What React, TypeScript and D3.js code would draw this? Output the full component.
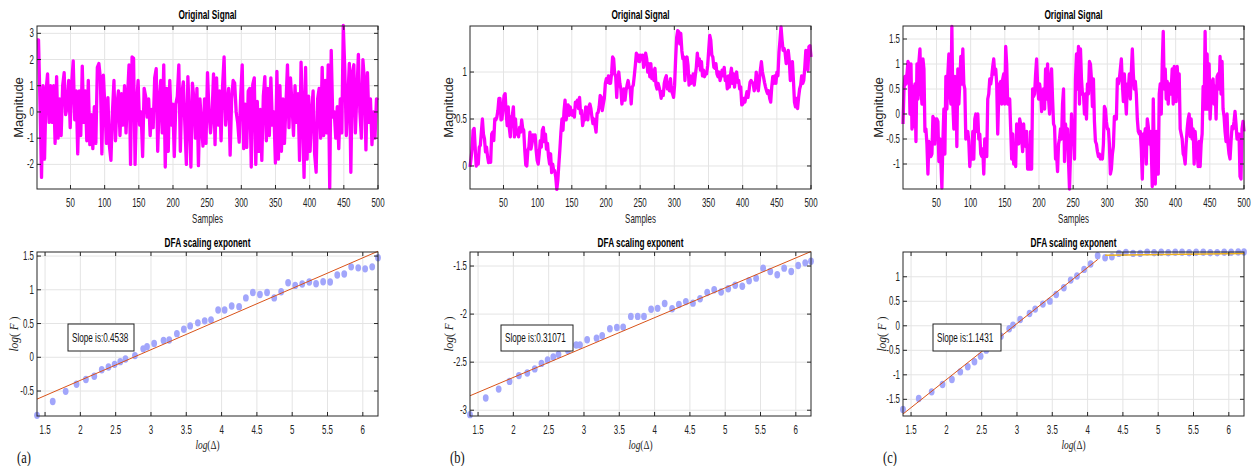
import React from "react";
import * as d3 from "d3";

// ---------------- data ----------------
const SAMPLE_RANGE = [1, 500];
const SAMPLE_TICKS = [50, 100, 150, 200, 250, 300, 350, 400, 450, 500];

const SIG_A = [2.75,2.75,0.3,-2.5,1.0,-1.8,0.8,1.45,-0.4,1.0,-0.4,1.0,-1.2,1.35,-1.0,0.5,-0.9,1.0,1.5,-0.1,0.2,1.2,-0.6,1.1,1.95,-0.3,0.8,-1.6,0.8,-0.9,1.75,-0.4,0.8,-1.1,1.2,-1.25,-0.1,-1.4,0.2,-1.2,1.7,1.85,1.3,-1.6,1.4,0.2,-1.2,0.55,-1.3,-1.85,0.0,1.2,-1.1,0.3,0.8,-0.9,0.7,-0.5,1.0,-0.8,0.6,1.8,-2.0,2.1,2.05,-2.0,0.3,1.2,-0.5,0.0,-1.7,0.9,0.6,-0.2,0.5,-0.9,0.1,-0.6,1.3,1.65,-1.5,0.4,1.2,-0.8,1.8,-2.1,0.9,-1.5,1.2,-0.5,0.3,-1.7,0.3,0.6,1.8,-1.5,0.7,1.15,-0.5,-2.0,1.35,-0.2,-2.1,1.1,0.5,-1.0,0.9,-2.05,0.5,-0.5,-1.3,0.5,-1.2,1.5,0.0,-0.8,-0.1,1.45,-1.25,1.3,-0.5,0.8,-1.1,1.0,2.1,-0.5,0.3,0.9,-1.65,0.5,1.2,1.1,0.0,-0.4,-1.15,0.6,1.8,-1.4,0.3,-1.35,0.8,0.9,-2.1,1.05,1.3,-2.0,0.4,-1.5,0.1,-1.85,0.6,1.35,-1.1,0.9,-0.9,1.3,-0.5,0.0,-1.95,1.55,-1.8,1.0,-1.5,0.5,-1.2,0.3,1.8,-0.6,1.3,0.3,-0.9,1.0,-0.4,0.7,-1.85,1.9,0.0,-2.5,1.7,-1.8,0.6,-1.5,0.0,0.8,-1.6,-2.3,0.5,0.9,-1.0,1.7,-0.9,1.2,-0.8,1.8,-2.9,2.35,-0.2,0.0,-1.0,0.2,-1.4,0.5,-0.8,3.3,1.6,-0.9,0.5,1.85,-2.3,1.5,1.8,-0.8,0.7,2.2,0.0,-1.0,2.0,1.2,-1.45,1.5,-0.4,0.5,-1.25,0.0,-1.0,0.5,0.45];
const SIG_B = [-0.01,0.08,0.18,0.38,0.40,0.2,0.0,0.04,0.02,0.2,0.22,0.36,0.5,0.34,0.29,0.15,0.2,0.1,0.035,0.06,0.04,0.34,0.36,0.27,0.5,0.49,0.52,0.59,0.72,0.72,0.49,0.5,0.63,0.75,0.77,0.56,0.43,0.63,0.41,0.31,0.52,0.54,0.63,0.31,0.50,0.34,0.38,0.31,0.41,0.36,0.49,0.40,0.38,0.17,0.01,0.0,0.17,0.2,0.36,0.18,0.24,0.33,0.27,0.33,0.17,0.06,0.02,0.13,0.27,0.2,0.38,0.41,0.26,0.34,0.18,0.24,0.1,0.02,0.13,-0.07,0.02,-0.05,-0.05,-0.12,-0.25,-0.15,0.02,0.18,0.36,0.5,0.38,0.59,0.7,0.49,0.56,0.65,0.54,0.63,0.56,0.54,0.59,0.52,0.68,0.65,0.70,0.61,0.73,0.56,0.59,0.43,0.5,0.49,0.63,0.54,0.49,0.63,0.66,0.61,0.52,0.45,0.5,0.43,0.36,0.56,0.57,0.63,0.75,0.73,0.59,0.66,0.72,0.88,0.93,0.89,0.96,0.88,0.88,0.98,1.16,1.14,0.98,0.95,0.73,0.95,1.0,0.88,0.82,0.66,0.75,0.82,0.70,0.80,0.86,0.91,0.84,0.82,0.66,0.84,0.86,0.96,1.07,1.2,1.12,1.18,1.11,1.18,1.14,1.18,1.05,1.12,1.2,1.14,1.0,1.09,0.95,1.09,0.93,1.02,0.91,1.04,0.86,0.82,0.88,0.84,0.79,0.72,0.79,0.75,0.88,0.93,0.96,0.82,0.89,0.80,0.93,0.80,0.77,0.73,0.86,1.14,1.37,1.44,1.43,1.30,1.41,1.23,1.14,1.16,0.91,1.12,1.16,1.07,0.86,0.96,0.88,0.89,0.98,0.86,0.96,1.05,1.2,1.07,1.14,1.02,1.11,0.96,1.02,0.95,1.0,0.98,1.07,1.23,1.39,1.34,1.18,1.16,1.05,1.04,1.09,0.98,0.95,1.0,0.91,0.96,1.02,0.96,1.05,0.91,0.95,0.82,0.96,0.84,0.96,1.04,0.88,0.98,0.84,0.96,1.0,0.89,0.91,0.82,0.84,0.65,0.66,0.72,0.68,0.73,0.79,0.73,0.80,0.89,0.91,0.89,0.88,0.80,0.84,1.0,0.89,0.80,0.91,1.02,1.11,1.0,0.95,0.89,0.84,0.80,0.77,0.80,0.72,0.68,0.84,0.95,0.88,0.96,0.88,1.0,0.96,1.21,1.34,1.48,1.34,1.23,1.25,1.2,1.09,1.14,1.23,1.12,0.91,1.02,1.11,0.91,0.68,0.63,0.72,0.61,0.73,0.82,0.86,0.96,0.88,0.91,1.05,1.23,1.2,1.02,1.27,1.28,1.16];
const SIG_C = [-0.2,0.5,0.75,0.6,0.8,1.05,1.0,0.0,1.0,-0.3,0.55,-0.25,0.6,-0.55,1.0,0.3,1.05,1.3,0.5,0.2,1.1,0.9,-0.35,-0.3,-0.6,-1.2,-0.55,-0.6,-0.85,-0.8,-0.05,-0.1,-0.6,-0.1,-0.1,-0.15,-0.95,-0.5,-0.95,-1.48,-0.55,0.1,-0.8,0.75,0.1,0.8,1.2,0.5,0.2,1.75,0.2,-0.3,0.75,0.7,-0.65,0.9,0.2,0.65,1.15,0.6,1.3,0.6,0.5,-0.5,-0.4,-0.35,-0.55,-1.05,-0.7,-0.9,-0.35,-0.9,-0.1,0.0,-0.35,0.0,-0.5,-0.4,-0.8,-0.85,-0.7,-1.2,-0.5,-0.65,-0.85,0.3,0.4,0.7,0.6,0.75,0.95,1.1,0.8,0.9,0.6,-0.4,0.35,0.6,0.65,0.2,0.7,0.8,0.2,1.35,1.0,0.2,0.3,0.3,-0.3,-0.9,-0.4,-1.0,-0.6,-1.05,-0.2,-0.5,-0.6,-0.1,-0.2,-0.5,-0.75,-0.2,-0.6,-0.65,-0.35,-1.1,-0.7,-1.1,-0.35,-1.1,0.5,0.35,0.4,0.8,1.1,0.6,0.3,0.6,0.45,0.05,0.3,0.5,0.1,0.9,0.3,1.0,0.3,0.0,0.7,0.9,0.3,-0.2,-0.25,-0.9,-0.8,-1.15,-0.6,-0.5,-0.3,-0.5,0.2,0.5,-0.95,-0.2,-0.5,-0.3,-0.95,-1.5,-0.8,0.0,-0.6,-0.3,-0.9,0.7,1.2,0.5,1.35,0.2,1.3,0.7,0.4,0.4,0.0,0.4,-0.1,0.6,0.4,1.05,1.0,0.7,0.15,0.7,-0.15,-0.55,-0.6,-0.75,-0.85,-0.8,-0.9,-0.85,-0.9,-0.6,0.15,0.1,-0.15,-0.3,-0.3,-0.6,-1.2,-1.1,-0.8,-0.65,-0.05,-0.1,-0.1,0.7,0.6,0.7,0.9,1.1,0.6,0.25,0.8,0.35,0.0,0.6,0.5,0.8,0.3,0.85,1.3,0.8,0.5,0.65,0.4,-0.1,-0.35,-0.4,-0.35,-0.7,-1.3,-0.4,-0.5,-0.3,-1.0,-0.1,-0.25,-0.6,-0.35,-0.7,-1.45,0.3,-0.8,-1.4,-0.35,-1.2,-1.2,0.4,0.6,0.0,1.0,1.65,0.5,0.9,0.3,0.65,0.2,0.6,0.4,0.5,0.9,0.2,0.95,0.5,0.25,0.95,0.55,0.8,-0.3,-0.4,-0.5,-0.8,-0.85,-1.0,-0.6,-0.3,-0.1,0.0,-0.45,-0.1,-0.5,-0.3,-1.0,-0.35,-0.65,-0.75,-1.05,-0.55,-1.05,-0.6,-0.4,0.55,0.1,1.65,0.1,1.2,0.1,1.0,-0.1,0.3,0.65,0.7,0.2,0.55,-0.1,0.75,0.8,0.5,1.15,0.4,1.05,0.1,-0.05,-0.35,-0.55,0.0,-0.6,-0.8,-0.9,-0.55,-0.25,-0.3,-0.15,0.05,-0.2,-0.5,-0.5,-0.4,-1.25,-1.3,-0.3,-0.15,-0.35];

const SIG_A_YDOMAIN = [-2.94, 3.28];
const SIG_B_YDOMAIN = [-0.245, 1.49];
const SIG_C_YDOMAIN = [-1.5, 1.76];
const SIG_A_YTICKS = [-2, -1, 0, 1, 2, 3];
const SIG_B_YTICKS = [0, 0.5, 1];
const SIG_C_YTICKS = [-1, -0.5, 0, 0.5, 1, 1.5];

const DFA_LOGN = [1.386,1.609,1.792,1.946,2.079,2.197,2.303,2.398,2.485,2.565,2.639,2.773,2.890,2.944,3.045,3.178,3.258,3.367,3.466,3.555,3.664,3.761,3.850,3.951,4.043,4.143,4.248,4.344,4.443,4.543,4.644,4.745,4.844,4.942,5.043,5.142,5.242,5.338,5.438,5.537,5.638,5.737,5.835,5.935,6.033,6.133,6.215];
const DFA_A = [-0.86,-0.655,-0.505,-0.40,-0.33,-0.28,-0.185,-0.145,-0.105,-0.065,-0.025,0.025,0.125,0.155,0.205,0.25,0.255,0.35,0.415,0.465,0.51,0.54,0.555,0.70,0.70,0.76,0.75,0.88,0.96,0.93,0.96,0.88,0.97,1.105,1.065,1.085,1.115,1.09,1.12,1.115,1.22,1.235,1.34,1.325,1.31,1.34,1.475];
const DFA_B = [-3.046,-2.873,-2.78,-2.70,-2.64,-2.613,-2.57,-2.513,-2.478,-2.447,-2.42,-2.378,-2.322,-2.322,-2.267,-2.25,-2.225,-2.152,-2.139,-2.135,-2.024,-2.024,-2.024,-1.95,-1.94,-1.89,-1.945,-1.90,-1.87,-1.886,-1.84,-1.775,-1.747,-1.77,-1.737,-1.70,-1.71,-1.653,-1.626,-1.522,-1.557,-1.59,-1.522,-1.557,-1.494,-1.467,-1.45];
const DFA_C = [-1.707,-1.483,-1.347,-1.197,-1.095,-0.939,-0.837,-0.735,-0.619,-0.497,-0.395,-0.211,-0.061,0.014,0.129,0.252,0.340,0.442,0.503,0.639,0.776,0.932,1.014,1.150,1.259,1.429,1.388,1.408,1.476,1.497,1.476,1.476,1.503,1.49,1.50,1.49,1.50,1.50,1.49,1.50,1.50,1.49,1.49,1.50,1.50,1.505,1.505];

const DFA_XDOMAIN = [1.386, 6.215];
const DFA_XTICKS = [1.5, 2, 2.5, 3, 3.5, 4, 4.5, 5, 5.5, 6];
const DFA_A_YDOMAIN = [-0.87, 1.56];
const DFA_B_YDOMAIN = [-3.06, -1.354];
const DFA_C_YDOMAIN = [-1.84, 1.505];
const DFA_A_YTICKS = [-0.5, 0, 0.5, 1, 1.5];
const DFA_B_YTICKS = [-3, -2.5, -2, -1.5];
const DFA_C_YTICKS = [-1.5, -1, -0.5, 0, 0.5, 1];

// fitted lines: [slope, intercept, xStart, xEnd]
const FIT_A = [0.4538, -1.249, 1.386, 6.215];
const FIT_B = [0.31071, -3.28, 1.386, 6.215];
const FIT_C = [1.1431, -3.384, 1.386, 4.143];
// plateau segment in (c): [x0, y0, x1, y1]
const PLATEAU_C = [4.248, 1.44, 6.215, 1.476];

const SLOPE_LABELS = ["Slope is:0.4538", "Slope is:0.31071", "Slope is:1.1431"];
const PANEL_TAGS = ["(a)", "(b)", "(c)"];

// ---------------- layout ----------------
const W = 1252, H = 466;
const LEFTS = [37, 470, 903];
const PW = 341;
const TOP_Y0 = 26, TOP_Y1 = 189;
const BOT_Y0 = 252, BOT_Y1 = 416;
const TOP_YLABEL_OFF = [17, 20, 23];
const BOT_YLABEL_OFF = [22, 20, 20];
const BOX_POS = [[68, 324, 66, 27], [501, 325, 72, 26], [933, 324, 68, 27]];

const SANS = "'Liberation Sans', Arial, sans-serif";
const SERIF = "'Liberation Serif', 'Times New Roman', serif";
const AX = "#262626";
const GRID = "#e4e4e4";
const TL = 4;
const SQ = 0.66; // horizontal squeeze of the reference typography

function NText({ x, y, size, sx = SQ, anchor = "start", weight = "normal", family = SANS, fill = "#222", children }: any) {
  return (
    <text
      transform={`translate(${x},${y}) scale(${sx},1)`}
      textAnchor={anchor}
      fontSize={size}
      fontWeight={weight}
      fontFamily={family}
      fill={fill}
    >
      {children}
    </text>
  );
}

function Frame({ x, y, xTicks, yTicks, x0, x1, y0, y1 }: any) {
  return (
    <g>
      <rect x={x0} y={y0} width={x1 - x0} height={y1 - y0} fill="#fff" />
      {xTicks.map((t: number) => (
        <line key={"gx" + t} x1={x(t)} x2={x(t)} y1={y0} y2={y1} stroke={GRID} strokeWidth={1} />
      ))}
      {yTicks.map((t: number) => (
        <line key={"gy" + t} x1={x0} x2={x1} y1={y(t)} y2={y(t)} stroke={GRID} strokeWidth={1} />
      ))}
    </g>
  );
}

function Axes({ x, y, xTicks, yTicks, x0, x1, y0, y1, tickLabelY }: any) {
  return (
    <g>
      <rect x={x0} y={y0} width={x1 - x0} height={y1 - y0} fill="none" stroke={AX} strokeWidth={1} />
      {xTicks.map((t: number) => (
        <g key={"tx" + t}>
          <line x1={x(t)} x2={x(t)} y1={y1} y2={y1 - TL} stroke={AX} />
          <line x1={x(t)} x2={x(t)} y1={y0} y2={y0 + TL} stroke={AX} />
          <NText x={x(t)} y={tickLabelY} size={12} anchor="middle">
            {String(t)}
          </NText>
        </g>
      ))}
      {yTicks.map((t: number) => (
        <g key={"ty" + t}>
          <line x1={x0} x2={x0 + TL} y1={y(t)} y2={y(t)} stroke={AX} />
          <line x1={x1} x2={x1 - TL} y1={y(t)} y2={y(t)} stroke={AX} />
          <NText x={x0 - 3} y={y(t) + 4} size={12} anchor="end">
            {String(t)}
          </NText>
        </g>
      ))}
    </g>
  );
}

function SignalPanel({ idx, values, yDomain, yTicks }: any) {
  const left = LEFTS[idx];
  const x = d3.scaleLinear().domain(SAMPLE_RANGE).range([left, left + PW]);
  const y = d3.scaleLinear().domain(yDomain).range([TOP_Y1, TOP_Y0]);
  const n = values.length;
  const pts: [number, number][] = values.map((v: number, i: number) => [
    SAMPLE_RANGE[0] + (i * (SAMPLE_RANGE[1] - SAMPLE_RANGE[0])) / (n - 1),
    v,
  ]);
  const line = d3.line<[number, number]>().x((d) => x(d[0])).y((d) => y(d[1]));
  const cx = left + PW / 2;
  const cy = (TOP_Y0 + TOP_Y1) / 2;
  const lx = left - TOP_YLABEL_OFF[idx];
  return (
    <g>
      <Frame x={x} y={y} xTicks={SAMPLE_TICKS} yTicks={yTicks} x0={left} x1={left + PW} y0={TOP_Y0} y1={TOP_Y1} />
      <path d={line(pts) || ""} fill="none" stroke="#ff00ff" strokeWidth={3.3} strokeLinejoin="round" />
      <Axes x={x} y={y} xTicks={SAMPLE_TICKS} yTicks={yTicks} x0={left} x1={left + PW} y0={TOP_Y0} y1={TOP_Y1} tickLabelY={207} />
      <NText x={cx} y={18.5} size={12.5} weight="bold" anchor="middle" fill="#000">
        Original Signal
      </NText>
      <NText x={cx} y={223} size={12} anchor="middle">
        Samples
      </NText>
      <text x={lx} y={cy} transform={`rotate(-90 ${lx} ${cy})`} textAnchor="middle" dominantBaseline="middle" fontSize={13} fontFamily={SANS} fill="#222">
        Magnitude
      </text>
    </g>
  );
}

function DfaPanel({ idx, values, yDomain, yTicks, fit, plateau }: any) {
  const left = LEFTS[idx];
  const x = d3.scaleLinear().domain(DFA_XDOMAIN).range([left, left + PW]);
  const y = d3.scaleLinear().domain(yDomain).range([BOT_Y1, BOT_Y0]);
  const cx = left + PW / 2;
  const cy = (BOT_Y0 + BOT_Y1) / 2;
  const lx = left - BOT_YLABEL_OFF[idx];
  const [sl, ic, fx0, fx1] = fit;
  const fitPts: [number, number][] = [
    [fx0, sl * fx0 + ic],
    [fx1, sl * fx1 + ic],
  ];
  const line = d3.line<[number, number]>().x((d) => x(d[0])).y((d) => y(d[1]));
  const [bx, by, bw, bh] = BOX_POS[idx];
  return (
    <g>
      <Frame x={x} y={y} xTicks={DFA_XTICKS} yTicks={yTicks} x0={left} x1={left + PW} y0={BOT_Y0} y1={BOT_Y1} />
      {values.map((v: number, i: number) => (
        <ellipse key={i} cx={x(DFA_LOGN[i])} cy={y(v)} rx={2.9} ry={3.7} fill="#a2a6fb" />
      ))}
      <path d={line(fitPts) || ""} fill="none" stroke="#d95319" strokeWidth={1} />
      {plateau && (
        <path
          d={line([[plateau[0], plateau[1]], [plateau[2], plateau[3]]]) || ""}
          fill="none"
          stroke="#edb120"
          strokeWidth={1.5}
        />
      )}
      <Axes x={x} y={y} xTicks={DFA_XTICKS} yTicks={yTicks} x0={left} x1={left + PW} y0={BOT_Y0} y1={BOT_Y1} tickLabelY={434} />
      <rect x={bx} y={by} width={bw} height={bh} fill="#fff" stroke="#222" strokeWidth={1} />
      <NText x={bx + 4} y={by + bh / 2 + 4} size={12} sx={0.68} fill="#111">
        {SLOPE_LABELS[idx]}
      </NText>
      <NText x={cx} y={246.5} size={12.5} weight="bold" anchor="middle" fill="#000">
        DFA scaling exponent
      </NText>
      <NText x={cx} y={449} size={13} sx={0.72} anchor="middle" family={SERIF}>
        <tspan fontStyle="italic">log</tspan>
        <tspan>(Δ)</tspan>
      </NText>
      <text x={lx} y={cy} transform={`rotate(-90 ${lx} ${cy})`} textAnchor="middle" dominantBaseline="middle" fontSize={11.5} fontFamily={SERIF} fill="#222">
        <tspan fontStyle="italic">log</tspan>
        <tspan>( </tspan>
        <tspan fontStyle="italic">F</tspan>
        <tspan> )</tspan>
      </text>
      <NText x={left - 20} y={463} size={16} sx={0.78} family={SERIF} fill="#111">
        {PANEL_TAGS[idx]}
      </NText>
    </g>
  );
}

export default function App() {
  return (
    <svg
      width={W}
      height={H}
      viewBox={`0 0 ${W} ${H}`}
      style={{ position: "absolute", left: 0, top: 0, background: "#fff" }}
    >
      <rect x={0} y={0} width={W} height={H} fill="#fff" />
      <SignalPanel idx={0} values={SIG_A} yDomain={SIG_A_YDOMAIN} yTicks={SIG_A_YTICKS} />
      <SignalPanel idx={1} values={SIG_B} yDomain={SIG_B_YDOMAIN} yTicks={SIG_B_YTICKS} />
      <SignalPanel idx={2} values={SIG_C} yDomain={SIG_C_YDOMAIN} yTicks={SIG_C_YTICKS} />
      <DfaPanel idx={0} values={DFA_A} yDomain={DFA_A_YDOMAIN} yTicks={DFA_A_YTICKS} fit={FIT_A} />
      <DfaPanel idx={1} values={DFA_B} yDomain={DFA_B_YDOMAIN} yTicks={DFA_B_YTICKS} fit={FIT_B} />
      <DfaPanel idx={2} values={DFA_C} yDomain={DFA_C_YDOMAIN} yTicks={DFA_C_YTICKS} fit={FIT_C} plateau={PLATEAU_C} />
    </svg>
  );
}
